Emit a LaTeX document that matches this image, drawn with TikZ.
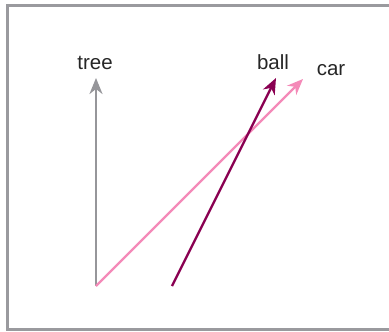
\documentclass[tikz,border=0pt]{standalone}
\usepackage{fontspec}
\setmainfont{Liberation Sans}
\usetikzlibrary{arrows.meta}
\definecolor{framegray}{HTML}{9A9A9E}
\definecolor{treegray}{HTML}{96969A}
\definecolor{carpink}{HTML}{F48AB8}
\definecolor{ballmag}{HTML}{8A0052}
\begin{document}
\begin{tikzpicture}[x=1pt,y=-1pt,
  vec/.style={line width=2.3pt,-{Stealth[length=16pt,width=13pt,inset=5pt]}},
  lbl/.style={font=\fontsize{20.5}{20.5}\selectfont,text=black!85,inner sep=0pt}]
\useasboundingbox (0,0) rectangle (389,332);
\draw[framegray,line width=3pt] (7,5) rectangle (400,329.5);
\coordinate (o1) at (96,286);
\coordinate (o2) at (172,286);
\coordinate (t1) at (96,78);
\coordinate (t2) at (303,79);
\coordinate (t3) at (276,78);
\node[lbl] (tree) at (95,63) {tree};
\node[lbl] (ball) at (273,62) {ball};
\node[lbl] (car) at (331,70) {car};
\draw[vec,treegray] (o1) -- (t1);
\draw[vec,carpink] (o1) -- (t2);
\draw[vec,ballmag] (o2) -- (t3);
\end{tikzpicture}
\end{document}
